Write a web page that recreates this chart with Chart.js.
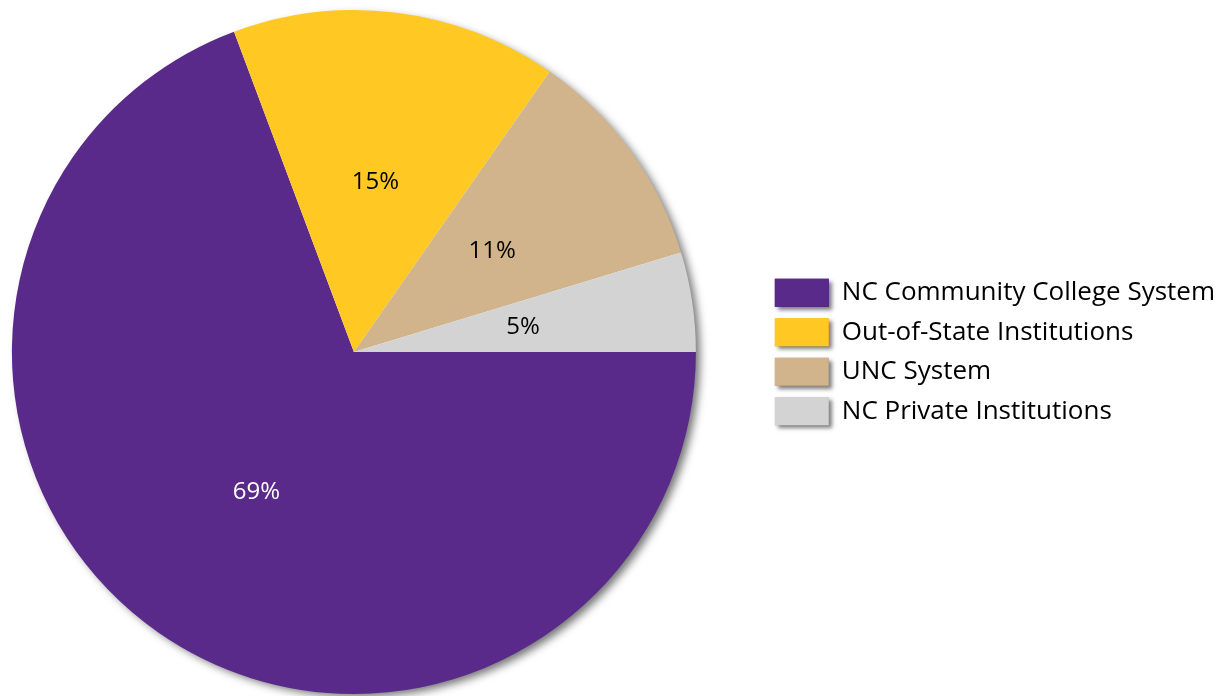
<!DOCTYPE html>
<html>
<head>
<meta charset="utf-8">
<script src="https://cdn.jsdelivr.net/npm/chart.js@4"></script>
<style>
  html, body { margin: 0; padding: 0; background: #ffffff; }
  #wrap { width: 1216px; height: 696px; }
</style>
</head>
<body>
<div id="wrap"><canvas id="transfer-chart"></canvas></div>
<script>
const categories = [
  "NC Community College System",
  "Out-of-State Institutions",
  "UNC System",
  "NC Private Institutions",
];
const shares = [69.3, 15.4, 10.6, 4.7];
const sliceColors = ["#592A89", "#FFC823", "#D2B48C", "#D3D3D3"];
const labelColors = ["#FFFFFF", "#000000", "#000000", "#000000"];

const FONT = "'Open Sans', sans-serif";
const LEGEND_GAP = 55.5; // extra space between pie and legend

// Soft drop shadow behind the pie and behind the legend swatches
const shadowPlugin = {
  id: "shadows",
  afterLayout(chart) {
    // push the legend right so the pie stays on the left
    const legend = chart.legend;
    legend.left += LEGEND_GAP;
    legend.right += LEGEND_GAP;
  },
  beforeDatasetsDraw(chart) {
    const arc = chart.getDatasetMeta(0).data[0];
    if (!arc) return;
    const { x, y, outerRadius } = arc.getProps(["x", "y", "outerRadius"], true);
    const ctx = chart.ctx;
    ctx.save();
    ctx.shadowColor = "rgba(0,0,0,0.55)";
    ctx.shadowBlur = 9;
    ctx.shadowOffsetX = 5;
    ctx.shadowOffsetY = 4;
    ctx.fillStyle = "#ffffff";
    ctx.beginPath();
    ctx.arc(x, y, outerRadius - 1, 0, Math.PI * 2);
    ctx.fill();
    ctx.restore();
  },
  afterDatasetsDraw(chart) {
    const legend = chart.legend;
    if (!legend || !legend.legendHitBoxes) return;
    const ctx = chart.ctx;
    const bw = legend.options.labels.boxWidth;
    const bh = legend.options.labels.boxHeight;
    ctx.save();
    ctx.shadowColor = "rgba(0,0,0,0.5)";
    ctx.shadowBlur = 4;
    ctx.shadowOffsetX = 3;
    ctx.shadowOffsetY = 3;
    legend.legendHitBoxes.forEach((hb, i) => {
      ctx.fillStyle = sliceColors[i];
      ctx.fillRect(hb.left, hb.top + (hb.height - bh) / 2, bw, bh);
    });
    ctx.restore();
  },
};

// Percent labels placed in the middle of each slice
const sliceLabelPlugin = {
  id: "sliceLabels",
  afterDatasetsDraw(chart) {
    const ctx = chart.ctx;
    const meta = chart.getDatasetMeta(0);
    ctx.save();
    ctx.font = "24px " + FONT;
    ctx.textAlign = "center";
    ctx.textBaseline = "middle";
    meta.data.forEach((arc, i) => {
      const p = arc.getCenterPoint();
      ctx.fillStyle = labelColors[i];
      ctx.fillText(Math.round(shares[i]) + "%", p.x, p.y);
    });
    ctx.restore();
  },
};

new Chart(document.getElementById("transfer-chart"), {
  type: "pie",
  data: {
    labels: categories,
    datasets: [
      {
        data: shares,
        backgroundColor: sliceColors,
        borderWidth: 0,
      },
    ],
  },
  options: {
    responsive: true,
    maintainAspectRatio: false,
    animation: false,
    rotation: 90,
    layout: {
      padding: { left: 0, right: 46.5, top: 10, bottom: 2 },
    },
    plugins: {
      legend: {
        position: "right",
        align: "center",
        labels: {
          boxWidth: 54,
          boxHeight: 28,
          padding: 11.5,
          color: "#000000",
          font: { size: 26, family: FONT },
        },
      },
      tooltip: { enabled: false },
    },
  },
  plugins: [shadowPlugin, sliceLabelPlugin],
});
</script>
</body>
</html>
